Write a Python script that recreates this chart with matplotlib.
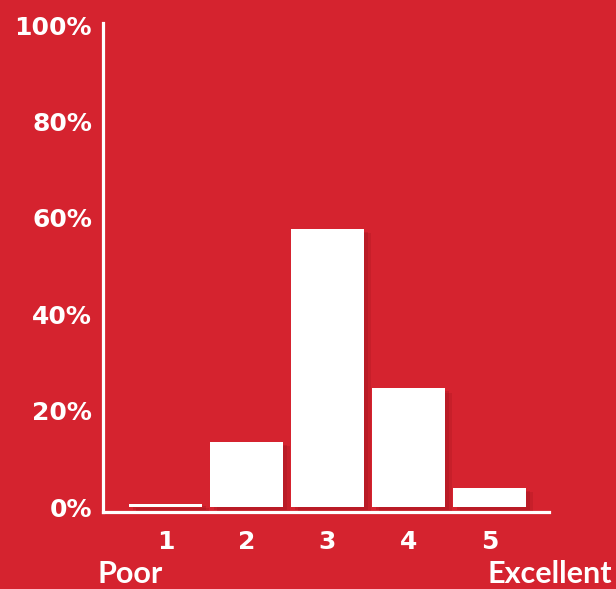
import matplotlib.pyplot as plt
import matplotlib.patheffects as pe

# rating scale and share of answers for each score
ratings = [1, 2, 3, 4, 5]
shares = [0.7, 13.5, 57.7, 24.6, 3.9]
y_ticks = [0, 20, 40, 60, 80, 100]
y_labels = ["0%", "20%", "40%", "60%", "80%", "100%"]

bg = "#D5232F"
plt.rcParams['font.family'] = ['DejaVu Sans']

fig = plt.figure(figsize=(6.16, 5.89), dpi=100, facecolor=bg)
ax = fig.add_axes([0.1672, 0.1307, 0.724, 0.830], facecolor=bg)

# white bars with a soft darker shadow to the lower right
bars = ax.bar(ratings, shares, width=0.9, color="white", zorder=3)
for b in bars:
    b.set_path_effects([pe.SimplePatchShadow(offset=(5, -3), shadow_rgbFace="#8a0f18", alpha=0.18),
                        pe.SimplePatchShadow(offset=(3, -2), shadow_rgbFace="#8a0f18", alpha=0.22),
                        pe.Normal()])

ax.set_xlim(0.228, 5.735)
ax.set_ylim(-1.04, 100.4)

for side in ["top", "right"]:
    ax.spines[side].set_visible(False)
for side in ["left", "bottom"]:
    ax.spines[side].set_color("white")
    ax.spines[side].set_linewidth(2.3)

ax.set_xticks(ratings)
ax.set_xticklabels([str(r) for r in ratings])
ax.set_yticks(y_ticks)
ax.set_yticklabels(y_labels)
ax.tick_params(axis="both", length=0, colors="white", labelsize=18)
ax.tick_params(axis="x", pad=13)
ax.tick_params(axis="y", pad=8)
for lbl in ax.get_xticklabels() + ax.get_yticklabels():
    lbl.set_fontweight("bold")

# end labels of the rating scale, kept just inside the bottom edge
fig.text(97 / 616, 6 / 589, "Poor", color="white", fontsize=22, fontweight="bold",
         family=["Lato", "DejaVu Sans"], ha="left", va="baseline")
fig.text(612 / 616, 6 / 589, "Excellent", color="white", fontsize=22, fontweight="bold",
         family=["Lato", "DejaVu Sans"], ha="right", va="baseline")

fig.savefig("out.png", dpi=100, facecolor=bg)
